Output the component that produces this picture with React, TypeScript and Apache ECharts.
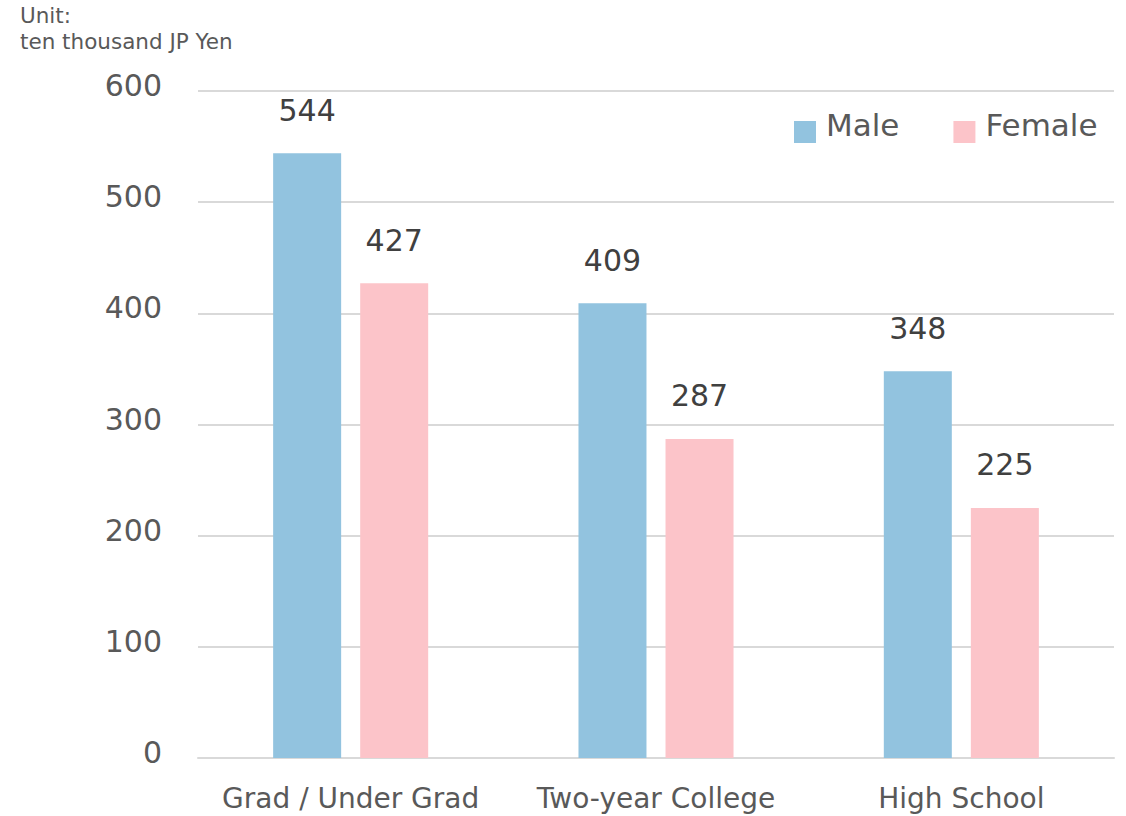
import React, { useEffect, useRef } from "react";
import * as echarts from "echarts";

// Annual income by education level, in ten thousand JP Yen
const categories = ["Grad / Under Grad", "Two-year College", "High School"];
const maleValues = [544, 409, 348];
const femaleValues = [427, 287, 225];
const yTicks = { min: 0, max: 600, interval: 100 };

const FONT = "DejaVu Sans";

// Legend swatch: a 22px square drawn low in a 27x35 box (the tiny dot sets the box),
// so the legend text sits a little above the square's centre and a bit further right.
const LEGEND_ICON = "path://M27,0h0.01v0.01h-0.01zM0,13h22v22h-22z";

export default function App() {
  const ref = useRef<HTMLDivElement>(null);

  useEffect(() => {
    if (!ref.current) return;
    const chart = echarts.init(ref.current, null, { renderer: "svg" });
    const labelStyle = {
      show: true,
      position: "top" as const,
      distance: 28,
      fontSize: 30,
      fontFamily: FONT,
      color: "#404040",
    };
    chart.setOption({
      animation: false,
      backgroundColor: "#ffffff",
      textStyle: { fontFamily: FONT },
      title: {
        text: "Unit:\nten thousand JP Yen",
        left: 15,
        top: -3,
        textStyle: {
          fontSize: 21.5,
          fontWeight: "normal",
          color: "#595959",
          fontFamily: FONT,
          lineHeight: 26,
        },
      },
      legend: {
        left: 789,
        top: 103,
        itemWidth: 27,
        itemHeight: 35,
        itemGap: 54,
        icon: LEGEND_ICON,
        textStyle: {
          fontSize: 31,
          color: "#595959",
          fontFamily: FONT,
        },
        data: ["Male", "Female"],
      },
      grid: { left: 198, right: 12, top: 91, bottom: 58, containLabel: false },
      xAxis: {
        type: "category",
        data: categories,
        axisLine: { lineStyle: { color: "#d9d9d9", width: 2 } },
        axisTick: { show: false },
        axisLabel: {
          interval: 0,
          fontSize: 28,
          color: "#595959",
          fontFamily: FONT,
          margin: 26,
        },
      },
      yAxis: {
        type: "value",
        min: yTicks.min,
        max: yTicks.max,
        interval: yTicks.interval,
        axisLine: { show: false },
        axisTick: { show: false },
        splitLine: { lineStyle: { color: "#d9d9d9", width: 2 } },
        axisLabel: {
          fontSize: 30,
          color: "#595959",
          fontFamily: FONT,
          margin: 36,
          verticalAlign: "bottom",
          lineHeight: 11,
        },
      },
      series: [
        {
          name: "Male",
          type: "bar",
          data: maleValues,
          barWidth: 68,
          barGap: "28%",
          itemStyle: { color: "#92c3df" },
          label: labelStyle,
        },
        {
          name: "Female",
          type: "bar",
          data: femaleValues,
          barWidth: 68,
          itemStyle: { color: "#fcc4c9" },
          label: labelStyle,
        },
      ],
    });
    return () => chart.dispose();
  }, []);

  return (
    <div
      ref={ref}
      style={{ position: "fixed", left: 0, top: 0, width: 1126, height: 816 }}
    />
  );
}
